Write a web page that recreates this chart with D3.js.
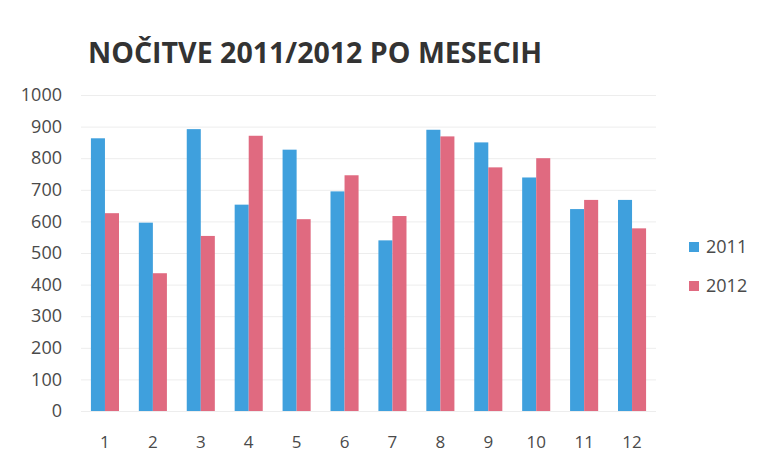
<!DOCTYPE html>
<html>
<head>
<meta charset="utf-8">
<script src="https://cdn.jsdelivr.net/npm/d3@7"></script>
<style>
  html, body { margin: 0; padding: 0; background: #fff; }
  svg { display: block; }
</style>
</head>
<body>
<svg id="chart" width="757" height="453"></svg>
<script>
const title = "NOČITVE 2011/2012 PO MESECIH";
const months = ["1","2","3","4","5","6","7","8","9","10","11","12"];
const seriesNames = ["2011", "2012"];
const values2011 = [863, 596, 892, 653, 827, 695, 540, 890, 850, 739, 639, 668];
const values2012 = [626, 436, 554, 871, 607, 746, 617, 869, 771, 800, 668, 578];
const yTicks = [0, 100, 200, 300, 400, 500, 600, 700, 800, 900, 1000];
const colors = ["#3fa0dd", "#e06a80"];

const series = [values2011, values2012];
const svg = d3.select("#chart");
const plot = { left: 81, right: 656, top: 95, bottom: 411 };

const x = d3.scaleBand().domain(months).range([plot.left, plot.right])
  .paddingInner(0.414).paddingOuter(0.207);
const xs = d3.scaleBand().domain(seriesNames).range([0, x.bandwidth()]);
const y = d3.scaleLinear().domain([0, 1000]).range([plot.bottom, plot.top]);

// gridlines
svg.append("g").selectAll("line").data(yTicks).join("line")
  .attr("x1", plot.left).attr("x2", plot.right)
  .attr("y1", d => y(d) + 0.5).attr("y2", d => y(d) + 0.5)
  .attr("stroke", "#ededed").attr("stroke-width", 1);

// y axis labels
const yAxis = d3.axisLeft(y).tickValues(yTicks).tickFormat(d3.format("d")).tickSize(0).tickPadding(0);
const gy = svg.append("g").attr("transform", `translate(${plot.left - 19},0)`).call(yAxis);
gy.select(".domain").remove();
gy.selectAll("text").attr("font-family", "'Open Sans', sans-serif")
  .attr("font-size", 18).attr("fill", "#4a4a4a");

// x axis labels
const xAxis = d3.axisBottom(x).tickSize(0).tickPadding(0);
const gx = svg.append("g").attr("transform", `translate(0,${plot.bottom + 25})`).call(xAxis);
gx.select(".domain").remove();
gx.selectAll("text").attr("font-family", "'Open Sans', sans-serif")
  .attr("font-size", 17).attr("fill", "#4a4a4a");

// bars
series.forEach((vals, si) => {
  svg.append("g").selectAll("rect").data(vals).join("rect")
    .attr("x", (d, i) => x(months[i]) + xs(seriesNames[si]))
    .attr("width", xs.bandwidth())
    .attr("y", d => y(d))
    .attr("height", d => y(0) - y(d))
    .attr("fill", colors[si]);
});

// title
svg.append("text").attr("x", 88).attr("y", 63)
  .attr("font-family", "'Open Sans', sans-serif").attr("font-weight", "bold")
  .attr("font-size", 28).attr("fill", "#333")
  .attr("textLength", 454).attr("lengthAdjust", "spacingAndGlyphs")
  .text(title);

// legend
const legendY = [247, 286];
const lg = svg.append("g");
seriesNames.forEach((name, i) => {
  lg.append("rect").attr("x", 689).attr("y", legendY[i] - 5)
    .attr("width", 10).attr("height", 10).attr("fill", colors[i]);
  lg.append("text").attr("x", 706).attr("y", legendY[i])
    .attr("dy", "0.35em")
    .attr("font-family", "'Open Sans', sans-serif").attr("font-size", 18)
    .attr("fill", "#4a4a4a").text(name);
});
</script>
</body>
</html>
